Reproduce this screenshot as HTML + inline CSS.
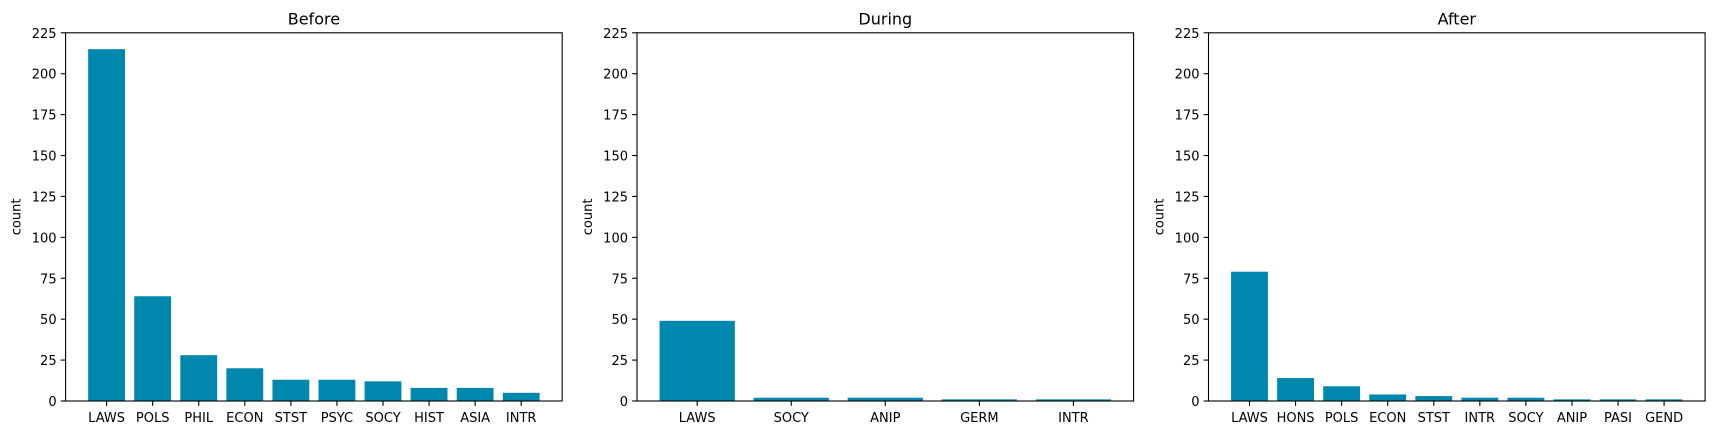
<!DOCTYPE html>
<html><head><meta charset="utf-8"><style>
body{margin:0;background:#fff;}
svg{display:block;font-family:"DejaVu Sans","Liberation Sans",sans-serif;}
</style></head><body>
<svg id="fig" width="1713" height="435" xmlns="http://www.w3.org/2000/svg"></svg>
<script>
const beforeCats=["LAWS","POLS","PHIL","ECON","STST","PSYC","SOCY","HIST","ASIA","INTR"];
const beforeVals=[215,64,28,20,13,13,12,8,8,5];
const duringCats=["LAWS","SOCY","ANIP","GERM","INTR"];
const duringVals=[49,2,2,1,1];
const afterCats=["LAWS","HONS","POLS","ECON","STST","INTR","SOCY","ANIP","PASI","GEND"];
const afterVals=[79,14,9,4,3,2,2,1,1,1];
const yTicks=[0,25,50,75,100,125,150,175,200,225];
const titles=["Before","During","After"];

const NS="http://www.w3.org/2000/svg";
const svgEl=document.getElementById('fig');
function mk(tag,attrs,parent){const e=document.createElementNS(NS,tag);for(const k in attrs)e.setAttribute(k,attrs[k]);(parent||svgEl).appendChild(e);return e;}
const panels=[[beforeCats,beforeVals,65.6],[duringCats,duringVals,637],[afterCats,afterVals,1208.5]];
const W=496.6,yTop=32.8,yBot=401,ymax=225;
panels.forEach((p,pi)=>{
  const [cats,vals,L]=p;
  const g=mk('g',{});
  
  
  const n=cats.length;const pad=0.05*(n-1+0.8);
  const x0=-0.4-pad,x1=n-1+0.4+pad;
  const xs=v=>L+(v-x0)/(x1-x0)*W;
  const ys=v=>yBot-(v/ymax)*(yBot-yTop);
  vals.forEach((v,i)=>{
    const r=mk('rect',{x:xs(i-0.4),y:ys(v),width:xs(i+0.4)-xs(i-0.4),height:ys(0)-ys(v),fill:'#0087ae'},g);
    
    
    mk('line',{x1:xs(i),x2:xs(i),y1:yBot,y2:yBot+4.9,stroke:'#000','stroke-width':1.1},g);
    const t=mk('text',{x:xs(i),y:yBot+21,'text-anchor':'middle','font-size':13,fill:'#000'},g);
    t.textContent=cats[i];
    
    
  });
  yTicks.forEach(v=>{
    mk('line',{x1:L-4.9,x2:L,y1:ys(v),y2:ys(v),stroke:'#000','stroke-width':1.1},g);
    const t=mk('text',{x:L-9,y:ys(v)+5,'text-anchor':'end','font-size':13,fill:'#000'},g);
    t.textContent=v;
    
    
  });
  const fr=mk('rect',{x:L,y:yTop,width:W,height:yBot-yTop,fill:'none',stroke:'#000','stroke-width':1.1},g);
  
  
  const tt=mk('text',{x:L+W/2,y:24.5,'text-anchor':'middle','font-size':16,fill:'#000'},g);
  tt.textContent=titles[pi];
  
  
  const yl=mk('text',{x:0,y:0,'text-anchor':'middle','font-size':13,fill:'#000',transform:`translate(${L-45},${(yTop+yBot)/2}) rotate(-90)`},g);
  yl.textContent='count';
  
  
});
</script>
</body></html>
